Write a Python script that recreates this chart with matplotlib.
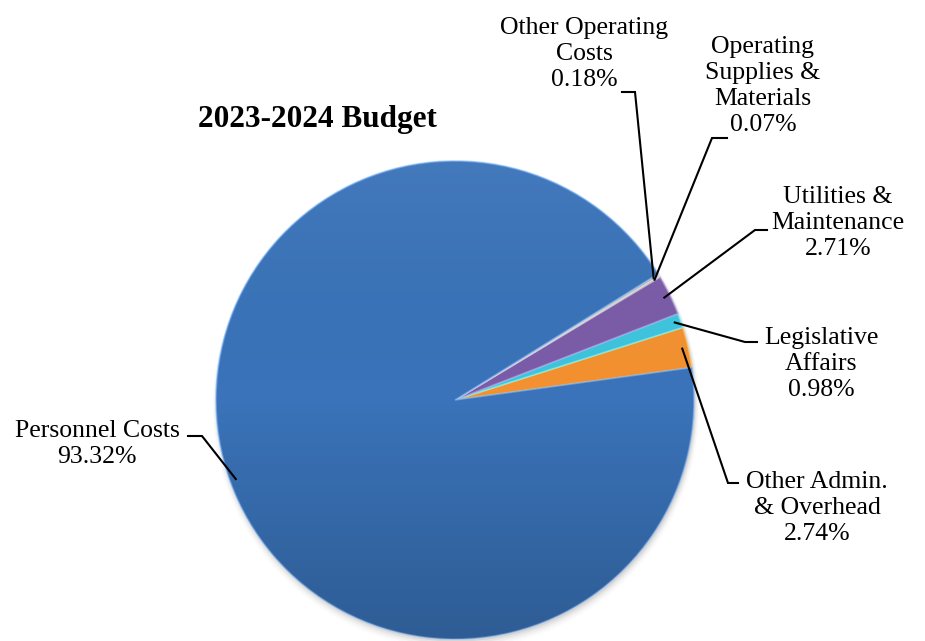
import numpy as np
import matplotlib
matplotlib.use("Agg")
import matplotlib.pyplot as plt
from matplotlib.colors import LinearSegmentedColormap, to_rgb

# ---- data ----
categories = ["Other Admin.\n& Overhead", "Legislative\nAffairs", "Utilities &\nMaintenance",
              "Operating\nSupplies &\nMaterials", "Other Operating\nCosts", "Personnel Costs"]
values = [2.74, 0.98, 2.71, 0.07, 0.18, 93.32]
value_labels = ["2.74%", "0.98%", "2.71%", "0.07%", "0.18%", "93.32%"]
colors = ["#F39130", "#3FC4DE", "#7B5CA8", "#8A8A8A", "#B4B4B4", "#3A73B9"]
title = "2023-2024 Budget"

W, H = 925, 641
fig = plt.figure(figsize=(W / 100, H / 100), dpi=100)
ax = fig.add_axes([0, 0, 1, 1])

def Y(y):
    return H - y

cx, cy, R = 455, Y(400), 239

# soft shadow
for i, a in enumerate([0.06, 0.045, 0.03, 0.02, 0.01]):
    sh = plt.Circle((cx + 1, cy - 2 - i), R + 0.5 + i, color="black", alpha=a, lw=0, zorder=1)
    ax.add_patch(sh)

wedges, _ = ax.pie(values, colors=colors, startangle=7.8, counterclock=True,
                   center=(cx, cy), radius=R, frame=True,
                   wedgeprops=dict(linewidth=0))

# subtle bevel on wedge edges
for w, c in zip(wedges, colors):
    r, g, b = to_rgb(c)
    light = (min(1, r + 0.25), min(1, g + 0.25), min(1, b + 0.25), 0.6)
    w.set_zorder(2)
    w.set_edgecolor(light)
    w.set_linewidth(1.2)

# vertical gradient clipped to pie (lighter top, darker bottom)
grad = np.linspace(0, 1, 256).reshape(-1, 1)
cmap = LinearSegmentedColormap.from_list("g", [(1, 1, 1, 0.05), (0, 0, 0, 0.0), (0, 0, 0, 0.2)])
im = ax.imshow(grad, extent=[cx - R, cx + R, cy - R, cy + R], cmap=cmap, aspect="auto",
               origin="upper", zorder=3, interpolation="bilinear")
clip = plt.Circle((cx, cy), R, transform=ax.transData)
im.set_clip_path(clip)

ax.set_xlim(0, W)
ax.set_ylim(0, H)
ax.axis("off")

font = "Liberation Serif"
fs = 18.5

# label layout: (text center x, text center y, horizontal start x, elbow x, elbow y)
layout = [
    (817, 508, 738, 728, 483),
    (821, 364, 757, 745, 342),
    (838, 223, 767, 755, 230),
    (763, 86, 727, 712, 138),
    (584, 54, 622, 635, 92),
    (97, 444, 188, 202, 436),
]

for w, cat, vl, (tx, ty, hx, ex, ey) in zip(wedges, categories, value_labels, layout):
    mid = np.deg2rad((w.theta1 + w.theta2) / 2)
    px = cx + w.r * 0.975 * np.cos(mid)
    py = cy + w.r * 0.975 * np.sin(mid)
    ax.plot([hx, ex, px], [Y(ey), Y(ey), py], color="black", lw=1.5, zorder=5,
            solid_joinstyle="miter")
    ax.text(tx, Y(ty), cat + "\n" + vl, ha="center", va="center", family=font,
            fontsize=fs, linespacing=1.22, zorder=6)

ax.text(317, Y(120), title, ha="center", va="center", family=font, fontsize=22.5,
        fontweight="bold")

fig.savefig("out.png", dpi=100)
